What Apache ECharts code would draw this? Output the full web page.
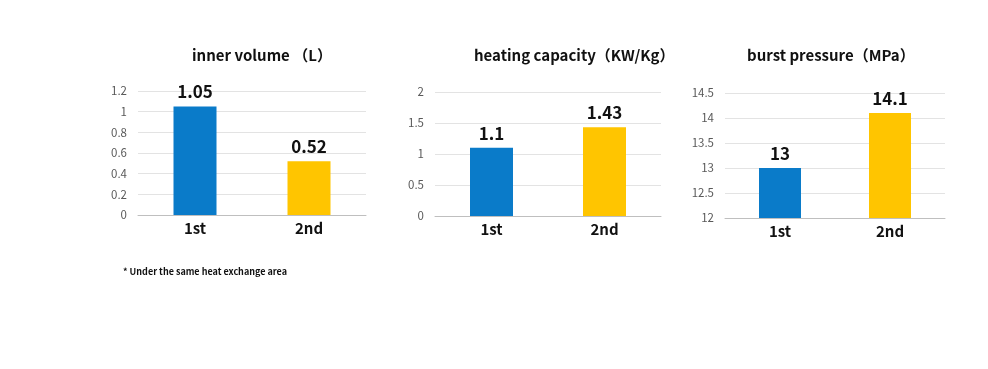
<!DOCTYPE html>
<html><head><meta charset="utf-8">
<script src="https://cdn.jsdelivr.net/npm/echarts@6/dist/echarts.min.js"></script>
<style>html,body{margin:0;padding:0;background:#fff}#c{width:988px;height:369px}</style>
</head><body><div id="c"></div>
<script>
const categories = ['1st', '2nd'];
const innerVolume = [1.05, 0.52];
const heatingCapacity = [1.1, 1.43];
const burstPressure = [13, 14.1];
const titles = ['inner volume （L）', 'heating capacity（KW/Kg）', 'burst pressure（MPa）'];
const footnote = '* Under the same heat exchange area';

const colors = ['#0a7bc9', '#ffc500'];
const font = '"Noto Sans CJK SC", "Noto Sans", sans-serif';
const grids = [
  {left: 138, top: 91, width: 228, height: 124},
  {left: 435, top: 92, width: 226, height: 124},
  {left: 725, top: 93, width: 220, height: 125}
];
const yAxes = [
  {min: 0, max: 1.2, interval: 0.2},
  {min: 0, max: 2, interval: 0.5},
  {min: 12, max: 14.5, interval: 0.5}
];
const datasets = [innerVolume, heatingCapacity, burstPressure];
const titlePos = [{left: 187, top: 43}, {left: 469, top: 43}, {left: 742, top: 43}];
const barW = [43, 43, 42];

const option = {
  animation: false,
  textStyle: {fontFamily: font},
  title: titles.map((t, i) => ({
    text: t, left: titlePos[i].left, top: titlePos[i].top,
    textStyle: {fontFamily: font, fontSize: 15, fontWeight: 'bold', color: '#111'}
  })).concat([{text: footnote, left: 118, top: 262, textStyle: {fontFamily: font, fontSize: 9, fontWeight: 'bold', color: '#111'}}]),
  grid: grids,
  xAxis: grids.map((g, i) => ({
    type: 'category', gridIndex: i, data: categories,
    axisLine: {lineStyle: {color: '#bfbfbf', width: 1}},
    axisTick: {show: false},
    axisLabel: {fontFamily: font, fontSize: 15, fontWeight: 'bold', color: '#111', margin: 6}
  })),
  yAxis: yAxes.map((y, i) => ({
    type: 'value', gridIndex: i, min: y.min, max: y.max, interval: y.interval,
    axisLine: {show: false}, axisTick: {show: false},
    splitLine: {lineStyle: {color: '#e3e3e3'}},
    axisLabel: {fontFamily: font, fontSize: 11.5, color: '#595959', margin: 11}
  })),
  series: datasets.map((d, i) => ({
    type: 'bar', xAxisIndex: i, yAxisIndex: i, barWidth: barW[i],
    data: d.map((v, j) => ({value: v, itemStyle: {color: colors[j]}})),
    label: {show: true, position: 'top', distance: 6, fontFamily: font, fontSize: 17, fontWeight: 'bold', color: '#111'}
  }))
};
echarts.init(document.getElementById('c')).setOption(option);
</script></body></html>
